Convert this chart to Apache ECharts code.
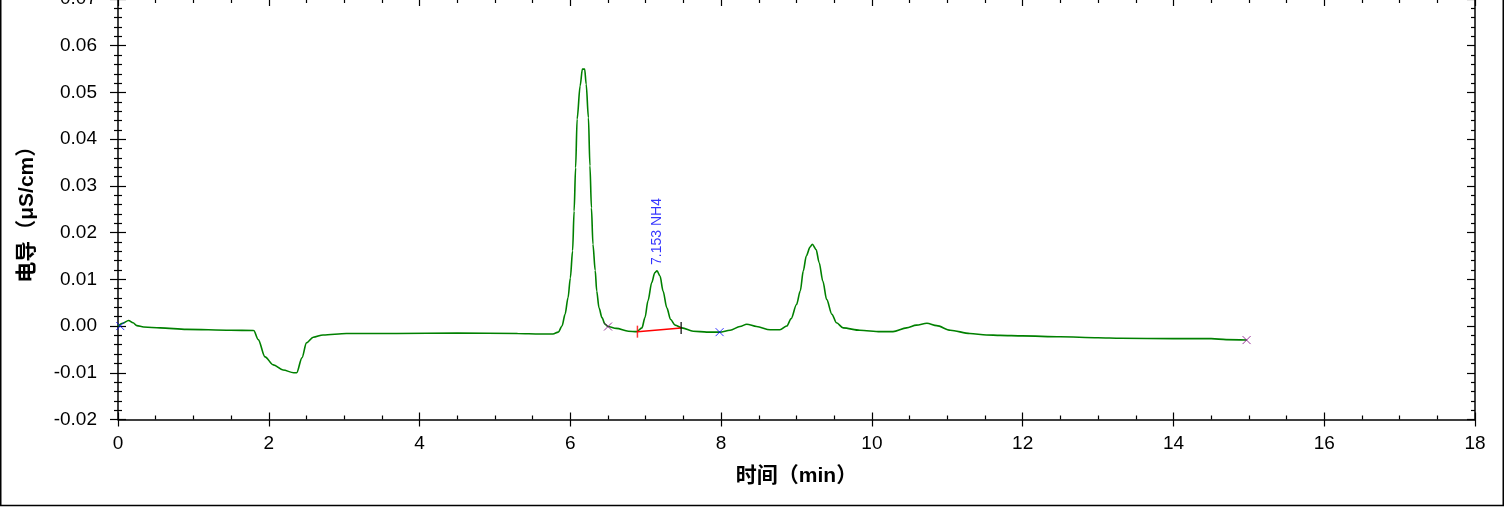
<!DOCTYPE html>
<html><head><meta charset="utf-8">
<script src="https://cdn.jsdelivr.net/npm/echarts@6/dist/echarts.min.js"></script>
<style>html,body{margin:0;padding:0;background:#fff}#c{width:1505px;height:507px}</style>
</head><body><div id="c"></div>
<script>
// Chromatogram trace (time in min, conductivity in µS/cm)
var times = [0.00,0.06,0.14,0.20,0.25,0.34,0.56,0.91,1.49,1.80,1.86,1.95,2.06,2.19,2.33,2.37,2.44,2.50,2.59,2.72,3.03,3.70,4.50,5.30,5.60,5.77,5.84,5.89,5.93,5.97,6.00,6.03,6.05,6.07,6.09,6.13,6.16,6.19,6.21,6.24,6.26,6.28,6.30,6.33,6.35,6.38,6.42,6.46,6.50,6.61,6.77,6.88,6.95,6.99,7.03,7.08,7.12,7.15,7.19,7.23,7.28,7.33,7.39,7.48,7.63,7.81,7.98,8.12,8.25,8.34,8.47,8.65,8.78,8.87,8.93,9.00,9.05,9.09,9.13,9.18,9.21,9.26,9.30,9.35,9.40,9.47,9.53,9.62,9.84,10.11,10.28,10.46,10.59,10.73,10.86,11.04,11.30,11.52,11.70,12.00,12.50,13.00,13.30,14.00,14.50,14.70,14.97];
var values = [0.0000,0.0006,0.0012,0.0007,0.0001,-0.0002,-0.0004,-0.0007,-0.0009,-0.00095,-0.0029,-0.0066,-0.0083,-0.0094,-0.0100,-0.0100,-0.0068,-0.0036,-0.0024,-0.0019,-0.0016,-0.0016,-0.0015,-0.0016,-0.0017,-0.0017,-0.0013,0.0000,0.0025,0.0061,0.0103,0.0161,0.0246,0.0339,0.0443,0.0514,0.0550,0.0550,0.0518,0.0446,0.0343,0.0253,0.0175,0.0119,0.0075,0.0039,0.0018,0.0004,-0.0001,-0.0005,-0.0011,-0.0012,-0.0004,0.0018,0.0054,0.0093,0.0114,0.0118,0.0107,0.0075,0.0039,0.0014,0.0002,-0.0004,-0.0011,-0.0013,-0.0013,-0.0009,-0.0001,0.0004,-0.0001,-0.0008,-0.0008,0.0000,0.0016,0.0046,0.0075,0.0118,0.0150,0.0169,0.0175,0.0164,0.0136,0.0096,0.0057,0.0025,0.0007,-0.0004,-0.0009,-0.0012,-0.0012,-0.0004,0.0002,0.0006,0.0001,-0.0009,-0.0016,-0.0019,-0.0020,-0.0021,-0.0023,-0.0025,-0.0026,-0.0027,-0.0027,-0.0029,-0.0030];
// integration markers
var purpleMarks = [[6.50,-0.0001],[14.97,-0.0030]];
var blueMarks = [[0.03,0.0000],[7.98,-0.0013]];
var baselineStart = [6.89,-0.0012];
var baselineEnd = [7.47,-0.0004];
var peakLabel = {t:7.153, v:0.0118, text:'7.153 NH4'};
var xTicks = {min:0, max:18, interval:2};
var yTicks = {min:-0.02, max:0.07, interval:0.01};

var trace = times.map(function(t,i){return [t, values[i]];});
var FONT = 'Liberation Sans, Arial, Noto Sans CJK SC, sans-serif';
var xPath = 'path://M0,0L10,10M10,0L0,10';

function xa(o){
  return Object.assign({type:'value', min:xTicks.min, max:xTicks.max, interval:xTicks.interval,
    splitLine:{show:false}, axisLine:{show:false, onZero:false, lineStyle:{color:'#000',width:1.5}},
    axisTick:{show:true, inside:true, length:7, lineStyle:{color:'#000',width:1.2}},
    minorTick:{show:true, splitNumber:4, length:4, lineStyle:{color:'#000',width:1.2}},
    axisLabel:{show:false}}, o);
}
function ya(o){
  return Object.assign({type:'value', min:yTicks.min, max:yTicks.max, interval:yTicks.interval,
    splitLine:{show:false}, axisLine:{show:false, onZero:false, lineStyle:{color:'#000',width:1.5}},
    axisTick:{show:true, inside:true, length:8, lineStyle:{color:'#000',width:1.2}},
    minorTick:{show:true, splitNumber:5, length:4, lineStyle:{color:'#000',width:1.2}},
    axisLabel:{show:false}}, o);
}

var chart = echarts.init(document.getElementById('c'));
chart.setOption({
  animation:false,
  backgroundColor:'#fff',
  grid:{left:118, top:-1, width:1357, height:420.5, containLabel:false, outerBoundsMode:'none'},
  xAxis:[
    xa({position:'bottom', axisLine:{show:true,onZero:false,lineStyle:{color:'#000',width:1.5}},
      axisLabel:{show:true, fontSize:19, color:'#000', fontFamily:FONT, margin:15},
      name:'时间（min）', nameLocation:'middle', nameGap:46,
      nameTextStyle:{fontSize:21, fontWeight:'bold', color:'#000', fontFamily:FONT}}),
    xa({position:'bottom', axisTick:{show:true, inside:false, length:7, lineStyle:{color:'#000',width:1.2}}, minorTick:{show:false}}),
    xa({position:'top', axisLine:{show:true,onZero:false,lineStyle:{color:'#000',width:1.5}}})
  ],
  yAxis:[
    ya({position:'left', axisLine:{show:true,onZero:false,lineStyle:{color:'#000',width:1.5}},
      axisTick:{show:true, inside:false, length:8, lineStyle:{color:'#000',width:1.2}},
      axisLabel:{show:true, fontSize:19, color:'#000', fontFamily:FONT, margin:21,
        formatter:function(v){return Math.abs(v)<1e-9?'0.00':v.toFixed(2);}},
      name:'电导（μS/cm）', nameLocation:'middle', nameGap:80, nameRotate:90,
      nameTextStyle:{fontSize:21, fontWeight:'bold', color:'#000', fontFamily:FONT}}),
    ya({position:'left'}),
    ya({position:'right', axisLine:{show:true,onZero:false,lineStyle:{color:'#000',width:1.5}}})
  ],
  series:[
    {type:'line', data:trace, xAxisIndex:0, yAxisIndex:0, showSymbol:false, symbol:'none',
      smooth:0.3, smoothMonotone:'x',
      lineStyle:{color:'#008000', width:1.6}, z:3},
    {type:'line', data:[baselineStart, baselineEnd], showSymbol:false, symbol:'none',
      lineStyle:{color:'#ff0000', width:1.5}, z:4},
    {type:'scatter', data:[baselineStart], symbol:'rect', symbolSize:[1.5,12], itemStyle:{color:'#ff0000'}, z:5},
    {type:'scatter', data:[baselineEnd], symbol:'rect', symbolSize:[1.5,12], itemStyle:{color:'#000'}, z:5},
    {type:'scatter', data:purpleMarks, symbol:xPath, symbolSize:8,
      itemStyle:{color:'transparent', borderColor:'#800080', borderWidth:1}, z:5},
    {type:'scatter', data:blueMarks, symbol:xPath, symbolSize:8,
      itemStyle:{color:'transparent', borderColor:'#0000ff', borderWidth:1}, z:5},
    {type:'scatter', data:[[peakLabel.t, peakLabel.v]], symbolSize:0, itemStyle:{color:'transparent'},
      label:{show:true, formatter:peakLabel.text, position:'top', distance:6, rotate:90,
        align:'left', verticalAlign:'middle', color:'#0000ff', fontSize:14, fontFamily:FONT}, z:6}
  ],
  graphic:[
    {type:'rect', shape:{x:0.75, y:-5, width:1502.5, height:510.5}, style:{fill:'none', stroke:'#000', lineWidth:1.5}, silent:true}
  ]
});
</script></body></html>
